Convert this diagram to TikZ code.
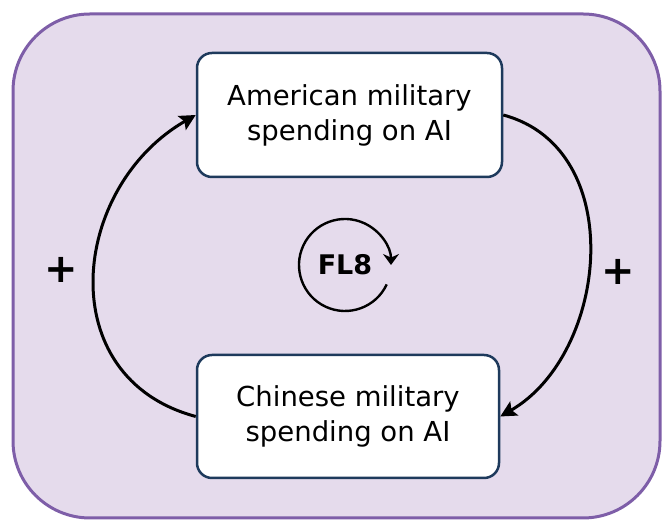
\documentclass[tikz,border=0pt]{standalone}
\usepackage{fontspec}
\setmainfont{DejaVu Sans}
\usetikzlibrary{arrows.meta}
\definecolor{bgfill}{HTML}{E5DBEC}
\definecolor{bgline}{HTML}{7E5EA8}
\definecolor{boxline}{HTML}{1E3A5C}
\tikzset{
  varbox/.style={draw=boxline, line width=2.5pt, fill=white, rounded corners=15pt,
    minimum width=#1, align=center, font=\fontsize{27.5}{35}\selectfont},
  link/.style={line width=3pt, -{Stealth[length=16pt,width=16pt,inset=3pt]}},
  sign/.style={font=\fontsize{40}{40}\selectfont\bfseries}
}
\begin{document}
\begin{tikzpicture}[x=1pt,y=1pt]
\useasboundingbox (0,0) rectangle (662,521);
\draw[draw=bgline, fill=bgfill, line width=3pt, rounded corners=77pt] (13,3) rectangle (660,507);
\node[varbox=305pt, minimum height=124pt] (am) at (349.5,406) {American military\\spending on AI};
\node[varbox=302pt, minimum height=123pt] (cn) at (348,104.5) {Chinese military\\spending on AI};
\draw[link] (cn.west) .. controls +(165:150) and +(210:145) .. (am.west);
\draw[link] (am.east) .. controls +(-15:130) and +(30:125) .. (cn.east);
\node[sign] (pl) at (61,251) {+};
\node[sign] (pr) at (618,249) {+};
\node[font=\fontsize{27}{27}\selectfont\bfseries] (fl) at (345,256) {FL8};
\draw[line width=2.4pt, -{Stealth[length=11pt,width=16pt]}] ([shift={(-25:46)}]fl.center) arc[start angle=-25, end angle=-360, radius=46];
\end{tikzpicture}
\end{document}
